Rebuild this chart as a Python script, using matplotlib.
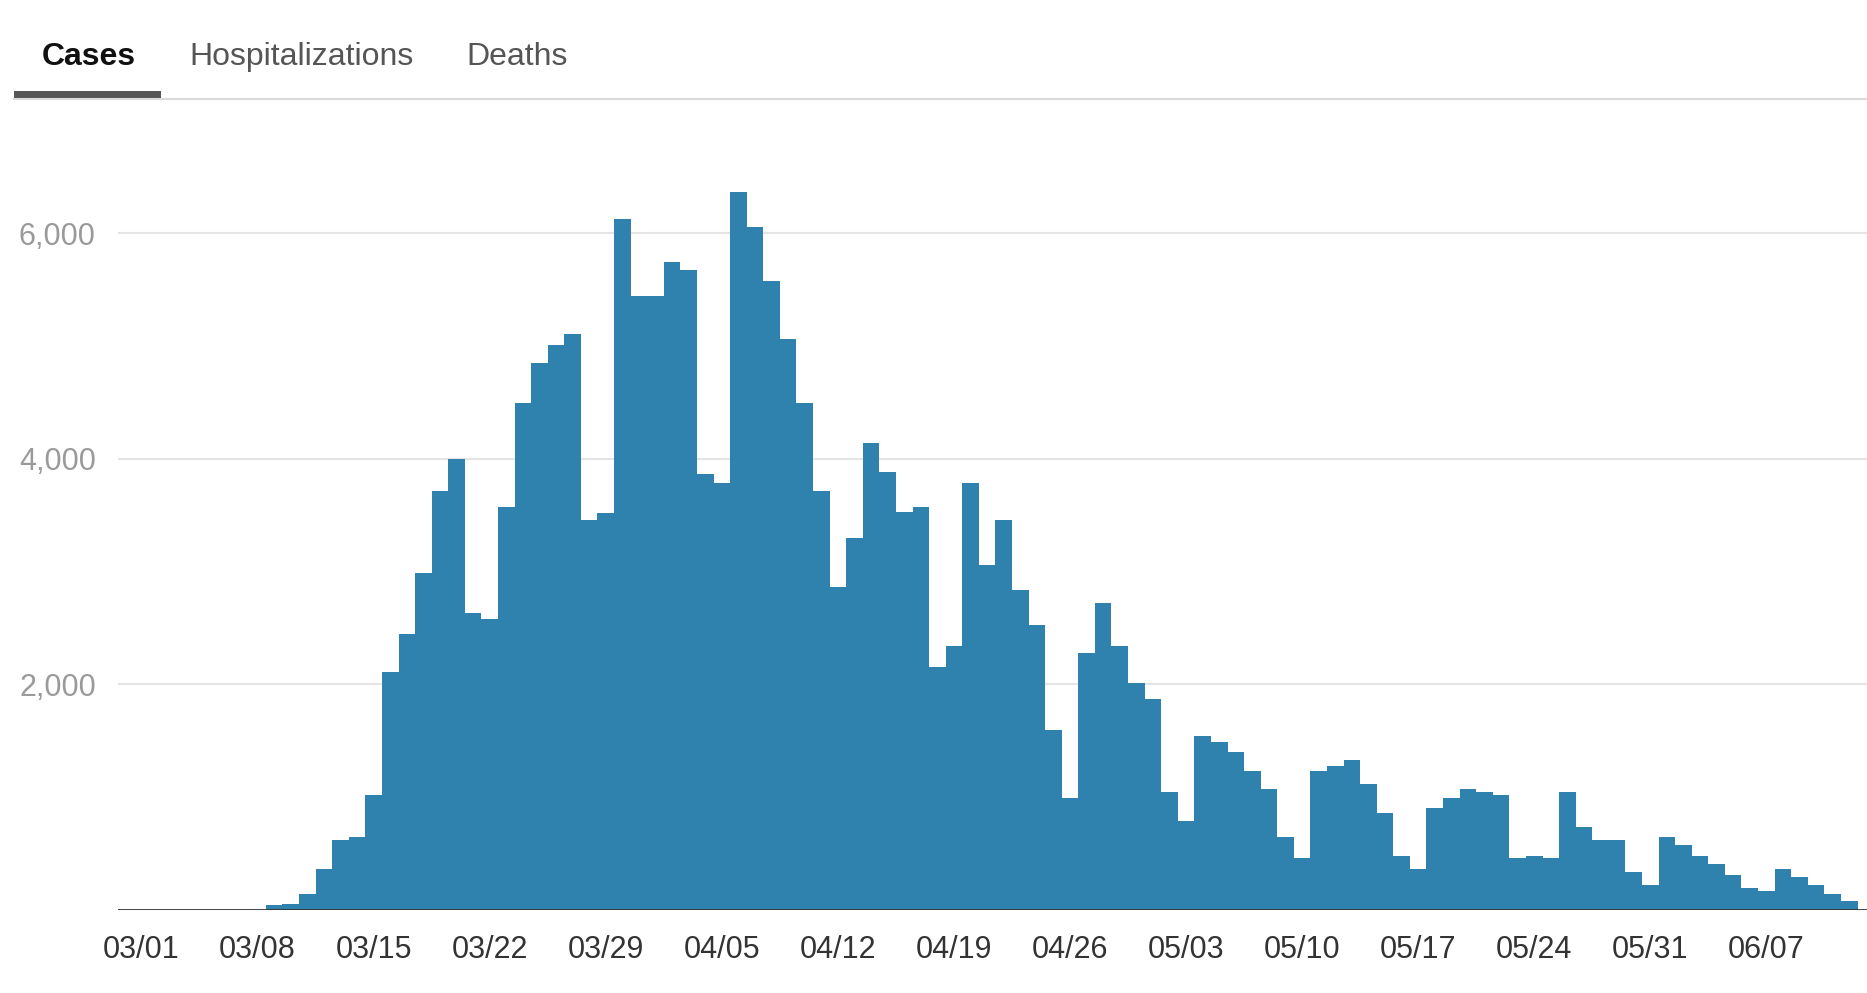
import numpy as np
import pandas as pd
import matplotlib
matplotlib.use("Agg")
import matplotlib.pyplot as plt
from matplotlib.patches import Rectangle
from matplotlib.lines import Line2D

# daily new cases, one value per day from 03/01
cases = [0, 0, 0, 0, 0, 0, 0, 0, 45, 50,
         146, 360, 622, 644, 1021, 2107, 2446, 2987, 3717, 3996,
         2631, 2584, 3575, 4494, 4850, 5013, 5107, 3459, 3524, 6129,
         5442, 5442, 5751, 5678, 3863, 3785, 6365, 6056, 5579, 5064,
         4498, 3717, 2867, 3296, 4142, 3884, 3528, 3575, 2159, 2343,
         3785, 3056, 3459, 2841, 2532, 1592, 996, 2275, 2725, 2343,
         2017, 1871, 1047, 785, 1545, 1494, 1399, 1236, 1073, 644,
         459, 1236, 1279, 1330, 1116, 858, 481, 360, 901, 996,
         1073, 1047, 1021, 459, 481, 459, 1047, 738, 622, 622,
         339, 223, 644, 575, 481, 408, 313, 197, 172, 360,
         292, 223, 146, 77]
tick_labels = ["03/01", "03/08", "03/15", "03/22", "03/29", "04/05", "04/12",
               "04/19", "04/26", "05/03", "05/10", "05/17", "05/24", "05/31", "06/07"]
y_ticks = [2000, 4000, 6000]
tabs = ["Cases", "Hospitalizations", "Deaths"]

days = pd.date_range("2020-03-01", periods=len(cases)).strftime("%m/%d")
x = np.arange(len(cases))

W, H = 1867, 993
fig = plt.figure(figsize=(W / 100, H / 100), dpi=100)
plt.rcParams['font.family'] = ['Liberation Sans', 'DejaVu Sans']

# tabs header
tab_x = [42, 189, 466]
for t, tx in zip(tabs, tab_x):
    fig.text(tx / W, 1 - 57 / H, t, fontsize=23, va="center", ha="left",
             color="#111111" if t == "Cases" else "#555555",
             fontweight="bold" if t == "Cases" else "normal")
fig.add_artist(Line2D([14 / W, 1], [1 - 99 / H, 1 - 99 / H], color="#dadada", lw=1.5))
fig.add_artist(Rectangle((14 / W, 1 - 98 / H), 147 / W, 7 / H, color="#555555", lw=0))

ax = fig.add_axes([118 / W, 1 - 910 / H, 1 - 118 / W, (910 - 140) / H])
ax.bar(x, cases, width=1.0, color="#2e82ad", linewidth=0, zorder=2)
ax.set_xlim(-1.42, 104.07)
ax.set_ylim(0, 6829)

ax.set_yticks(y_ticks)
ax.set_yticklabels([f"{v:,}" for v in y_ticks])
ax.grid(axis="y", color="#e4e4e4", lw=1.5, zorder=0)
ax.axhline(0, color="#333333", lw=2, zorder=3)

tick_pos = [i for i, d in enumerate(days) if d in tick_labels]
ax.set_xticks(tick_pos)
ax.set_xticklabels(tick_labels)

ax.tick_params(axis="x", length=0, pad=18, labelsize=22, labelcolor="#333333")
ax.tick_params(axis="y", length=0, pad=16, labelsize=22, labelcolor="#9a9a9a")
for s in ax.spines.values():
    s.set_visible(False)

plt.savefig("out.png", dpi=100)
